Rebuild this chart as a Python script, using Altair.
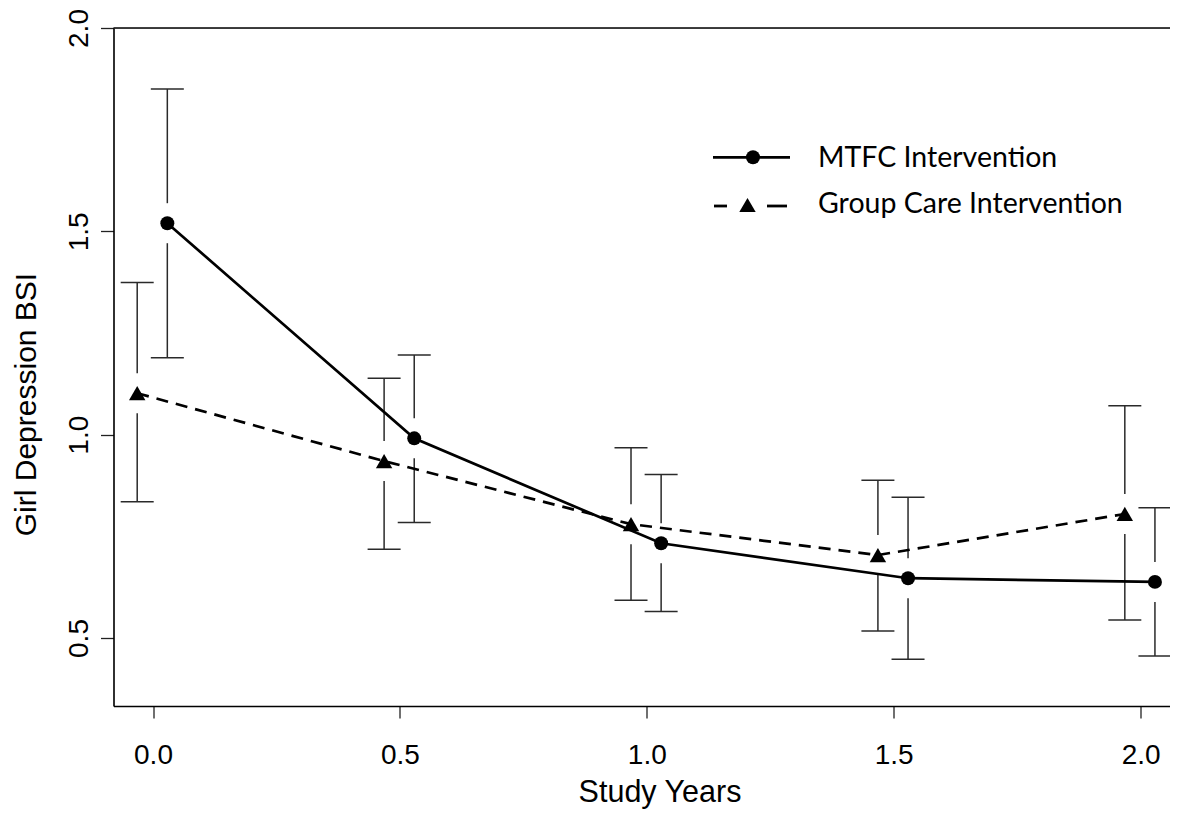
import altair as alt
import pandas as pd

# ---- data ----
years = [0.0, 0.5, 1.0, 1.5, 2.0]

mtfc_mean = [1.520, 0.991, 0.733, 0.647, 0.638]
mtfc_lo = [1.189, 0.784, 0.565, 0.448, 0.456]
mtfc_hi = [1.850, 1.196, 0.902, 0.846, 0.820]

gc_mean = [1.102, 0.935, 0.780, 0.704, 0.805]
gc_lo = [0.835, 0.718, 0.593, 0.517, 0.544]
gc_hi = [1.374, 1.139, 0.968, 0.888, 1.071]

groups = ["MTFC Intervention", "Group Care Intervention"]
x_ticks = [0.0, 0.5, 1.0, 1.5, 2.0]
y_ticks = [0.5, 1.0, 1.5, 2.0]

# ---- style / layout ----
W, H = 1056.5, 678
DODGE = {groups[0]: 0.029, groups[1]: -0.032}
GAP = 20
BAR_COLOR = "#2a2a2a"
AXIS_FONT = "Liberation Sans"
LEG_FONT = "Lato"

rows = []
for g, m, lo, hi in [(groups[0], mtfc_mean, mtfc_lo, mtfc_hi),
                     (groups[1], gc_mean, gc_lo, gc_hi)]:
    for yr, a, b, c in zip(years, m, lo, hi):
        rows.append({"group": g, "year": yr, "mean": a, "lo": b, "hi": c,
                     "xpos": yr + DODGE[g]})
df = pd.DataFrame(rows)

xs = alt.Scale(domain=[-0.08, 2.0595], nice=False, zero=False)
ys = alt.Scale(domain=[0.3328, 2.0], nice=False, zero=False)

X = alt.X("xpos:Q", scale=xs, axis=alt.Axis(
    values=x_ticks, format=".1f", title="Study Years", grid=False,
    labelFont=AXIS_FONT, labelFontSize=28, labelColor="black",
    labelPadding=23, labelFlush=False, labelOverlap=False,
    tickSize=12, tickColor="#222", tickWidth=1.3,
    domainColor="black", domainWidth=1.6,
    titleFont=AXIS_FONT, titleFontSize=30.5, titleFontWeight="normal",
    titleColor="black", titleX=546, titleY=95, titleBaseline="alphabetic"))

Y = alt.Y("mean:Q", scale=ys, axis=alt.Axis(
    values=y_ticks, format=".1f", title="Girl Depression BSI", grid=False,
    labelFont=AXIS_FONT, labelFontSize=28, labelColor="black",
    labelAngle=270, labelAlign="center", labelBaseline="alphabetic",
    labelPadding=13, labelFlush=False, labelOverlap=False,
    tickSize=13, tickColor="#222", tickWidth=1.3,
    domainColor="black", domainWidth=1.6,
    titleFont=AXIS_FONT, titleFontSize=30, titleFontWeight="normal",
    titleColor="black", titleAngle=270, titleAlign="center",
    titleBaseline="alphabetic", titleX=-78, titleY=376))

base = alt.Chart(df)

upper = base.mark_rule(color=BAR_COLOR, strokeWidth=1.5, y2Offset=-GAP).encode(
    x=X, y=alt.Y("hi:Q", scale=ys), y2="mean:Q")
lower = base.mark_rule(color=BAR_COLOR, strokeWidth=1.5, y2Offset=GAP).encode(
    x=alt.X("xpos:Q", scale=xs), y=alt.Y("lo:Q", scale=ys), y2="mean:Q")
cap_hi = base.mark_tick(orient="horizontal", color=BAR_COLOR, size=33,
                        thickness=1.5, opacity=1).encode(
    x=alt.X("xpos:Q", scale=xs), y=alt.Y("hi:Q", scale=ys))
cap_lo = base.mark_tick(orient="horizontal", color=BAR_COLOR, size=33,
                        thickness=1.5, opacity=1).encode(
    x=alt.X("xpos:Q", scale=xs), y=alt.Y("lo:Q", scale=ys))

line_m = base.transform_filter(alt.datum.group == groups[0]).mark_line(
    color="black", strokeWidth=2.7).encode(x=alt.X("xpos:Q", scale=xs), y=Y)
line_g = base.transform_filter(alt.datum.group == groups[1]).mark_line(
    color="black", strokeWidth=2.7, strokeDash=[12, 8]).encode(
    x=alt.X("xpos:Q", scale=xs), y=alt.Y("mean:Q", scale=ys))

pts_m = base.transform_filter(alt.datum.group == groups[0]).mark_point(
    shape="circle", filled=True, color="black", size=195, opacity=1).encode(
    x=alt.X("xpos:Q", scale=xs), y=alt.Y("mean:Q", scale=ys))
pts_g = base.transform_filter(alt.datum.group == groups[1]).mark_point(
    shape="triangle-up", filled=True, color="black", size=270, opacity=1).encode(
    x=alt.X("xpos:Q", scale=xs), y=alt.Y("mean:Q", scale=ys))

one = alt.Data(values=[{"k": 1}])
top_line = alt.Chart(one).mark_rule(color="black", strokeWidth=1.6).encode(
    x=alt.value(0), x2=alt.value(W), y=alt.value(0))

# ---- manual legend ----
leg1_line = alt.Chart(one).mark_rule(color="black", strokeWidth=2.8).encode(
    x=alt.value(599.5), x2=alt.value(676.5), y=alt.value(129.3))
leg1_pt = alt.Chart(one).mark_point(shape="circle", filled=True, color="black",
                                    size=195, opacity=1).encode(
    x=alt.value(639.5), y=alt.value(129.3))
leg2_d1 = alt.Chart(one).mark_rule(color="black", strokeWidth=2.8).encode(
    x=alt.value(600.5), x2=alt.value(613.5), y=alt.value(178))
leg2_d2 = alt.Chart(one).mark_rule(color="black", strokeWidth=2.8).encode(
    x=alt.value(653.5), x2=alt.value(673.5), y=alt.value(178))
leg2_pt = alt.Chart(one).mark_point(shape="triangle-up", filled=True,
                                    color="black", size=270, opacity=1).encode(
    x=alt.value(634), y=alt.value(177))
leg1_txt = alt.Chart(pd.DataFrame({"label": [groups[0]]})).mark_text(
    font=LEG_FONT, fontSize=28.5, align="left", baseline="alphabetic",
    color="black").encode(text="label:N", x=alt.value(704.5), y=alt.value(138.7))
leg2_txt = alt.Chart(pd.DataFrame({"label": [groups[1]]})).mark_text(
    font=LEG_FONT, fontSize=28.5, align="left", baseline="alphabetic",
    color="black").encode(text="label:N", x=alt.value(704.5), y=alt.value(185.3))

chart = alt.layer(
    upper, lower, cap_hi, cap_lo, line_m, line_g, pts_m, pts_g, top_line,
    leg1_line, leg1_pt, leg2_d1, leg2_d2, leg2_pt, leg1_txt, leg2_txt
).properties(
    width=W, height=H,
    autosize=alt.AutoSizeParams(type="none"),
    padding={"left": 105.5, "top": 20, "right": 0, "bottom": 106},
).configure_view(stroke=None).configure(background="white")

chart.save("out.html", embed_options={"renderer": "svg", "actions": False})
